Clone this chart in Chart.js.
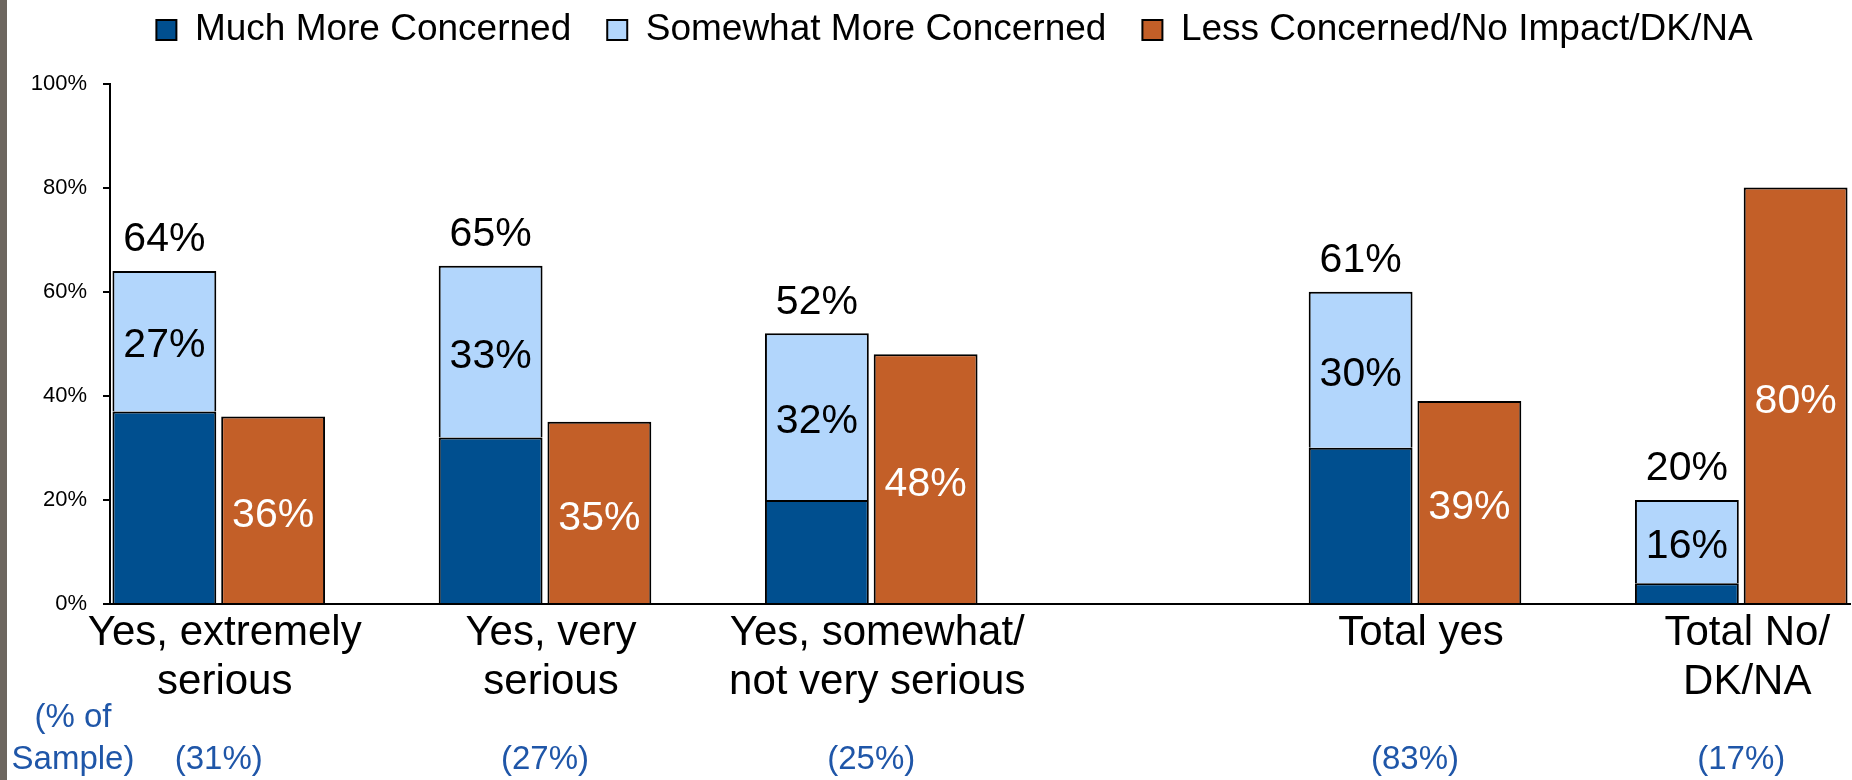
<!DOCTYPE html>
<html>
<head>
<meta charset="utf-8">
<title>Concern by seriousness</title>
<script src="https://cdn.jsdelivr.net/npm/chart.js@4.4.1/dist/chart.umd.min.js"></script>
<style>
  html, body { margin: 0; padding: 0; background: #fff; }
  .frame { width: 1852px; height: 780px; display: flex; background: #fff; }
  .edge { width: 7px; height: 780px; background: #6d665f; }
  canvas { display: block; }
</style>
</head>
<body>
<div class="frame">
  <div class="edge"></div>
  <canvas id="chart" width="1845" height="780"></canvas>
</div>
<script>
const categories = [
  ['Yes, extremely', 'serious'],
  ['Yes, very', 'serious'],
  ['Yes, somewhat/', 'not very serious'],
  ['Total yes'],
  ['Total No/', 'DK/NA']
];
const sampleShares = ['(31%)', '(27%)', '(25%)', '(83%)', '(17%)'];
const muchMore = [37, 32, 20, 30, 4];
const somewhatMore = [27, 33, 32, 30, 16];
const lessConcerned = [36, 35, 48, 39, 80];
const concernedTotals = [64, 65, 52, 61, 20];
const yTicks = [0, 20, 40, 60, 80, 100];

// group centres on a 0..16 axis (one unit = one bar slot), wider gap before the totals
const slots = [1, 4, 7, 12, 15];

const FONT = '"Liberation Sans", Arial, sans-serif';
const BLUE_TEXT = '#1f56a8';

const toPoints = values => values.map((v, i) => ({ x: slots[i], y: v }));
const slotTicks = scale => { scale.ticks = slots.map(v => ({ value: v })); };

// labels on the bars and the "(% of Sample)" caption
const barLabels = {
  id: 'barLabels',
  afterDatasetsDraw(chart) {
    const ctx = chart.ctx;
    ctx.save();
    ctx.textAlign = 'center';
    ctx.textBaseline = 'middle';
    ctx.font = '41px ' + FONT;

    chart.getDatasetMeta(1).data.forEach((bar, i) => {
      ctx.fillStyle = '#000';
      ctx.fillText(somewhatMore[i] + '%', bar.x, (bar.y + bar.base) / 2 + 5);
      ctx.fillText(concernedTotals[i] + '%', bar.x, bar.y - 31);
    });
    chart.getDatasetMeta(2).data.forEach((bar, i) => {
      ctx.fillStyle = '#fff';
      ctx.fillText(lessConcerned[i] + '%', bar.x, (bar.y + bar.base) / 2 + 6);
    });

    const s = chart.scales.x2;
    ctx.font = '33px ' + FONT;
    ctx.fillStyle = BLUE_TEXT;
    const yLast = s.bottom - 19.8;
    ctx.fillText('(% of', 66, yLast - 42);
    ctx.fillText('Sample)', 66, yLast);
    ctx.restore();
  }
};

// room under the legend, and legend centred a little right of the canvas middle
const legendPlace = {
  id: 'legendPlace',
  beforeInit(chart) {
    const fit = chart.legend.fit;
    chart.legend.fit = function () {
      fit.call(this);
      this.height = 108;
    };
  },
  afterLayout(chart) {
    chart.legend.left += 26;
    chart.legend.right += 26;
  }
};

new Chart(document.getElementById('chart'), {
  type: 'bar',
  data: {
    datasets: [
      {
        label: 'Much More Concerned',
        data: toPoints(muchMore),
        stack: 'concerned',
        backgroundColor: '#004f8f',
        borderColor: '#000',
        borderWidth: 2
      },
      {
        label: 'Somewhat More Concerned',
        data: toPoints(somewhatMore),
        stack: 'concerned',
        backgroundColor: '#b2d6fc',
        borderColor: '#000',
        borderWidth: 2
      },
      {
        label: 'Less Concerned/No Impact/DK/NA',
        data: toPoints(lessConcerned),
        stack: 'less',
        backgroundColor: '#c35f28',
        borderColor: '#000',
        borderWidth: 2
      }
    ]
  },
  options: {
    responsive: false,
    animation: false,
    categoryPercentage: 2 / 3,
    barPercentage: 0.955,
    layout: { padding: { top: -24.5, left: 0, right: 2, bottom: 0 } },
    plugins: {
      legend: {
        position: 'top',
        align: 'center',
        labels: {
          color: '#000',
          font: { family: FONT, size: 37 },
          boxWidth: 20,
          boxHeight: 20,
          padding: 36
        }
      },
      tooltip: { enabled: false }
    },
    scales: {
      x: {
        type: 'linear',
        min: 0,
        max: 16,
        offset: false,
        grid: { display: false, drawTicks: false, offset: false },
        border: { display: true, color: '#000', width: 2 },
        afterBuildTicks: slotTicks,
        afterFit: scale => { scale.height = 103.5; },
        ticks: {
          autoSkip: false,
          maxRotation: 0,
          minRotation: 0,
          padding: 5,
          labelOffset: 6,
          color: '#000',
          font: { family: FONT, size: 42, lineHeight: 1.17 },
          callback: (v, i) => categories[i]
        }
      },
      x2: {
        type: 'linear',
        position: 'bottom',
        min: 0,
        max: 16,
        offset: false,
        grid: { display: false, drawTicks: false, offset: false },
        border: { display: false },
        afterBuildTicks: slotTicks,
        afterFit: scale => { scale.height = 72.5; },
        ticks: {
          autoSkip: false,
          maxRotation: 0,
          minRotation: 0,
          padding: 33,
          color: BLUE_TEXT,
          font: { family: FONT, size: 33, lineHeight: 1.2 },
          callback: (v, i) => sampleShares[i]
        }
      },
      y: {
        min: 0,
        max: 100,
        stacked: true,
        afterFit: scale => { scale.width = 103; },
        afterBuildTicks: scale => { scale.ticks = yTicks.map(v => ({ value: v })); },
        grid: { drawOnChartArea: false, drawTicks: true, tickLength: 7, color: '#000', lineWidth: 2 },
        border: { display: true, color: '#000', width: 2 },
        ticks: {
          padding: 16,
          color: '#000',
          font: { family: FONT, size: 22 },
          callback: v => v + '%'
        }
      }
    }
  },
  plugins: [barLabels, legendPlace]
});
</script>
</body>
</html>
